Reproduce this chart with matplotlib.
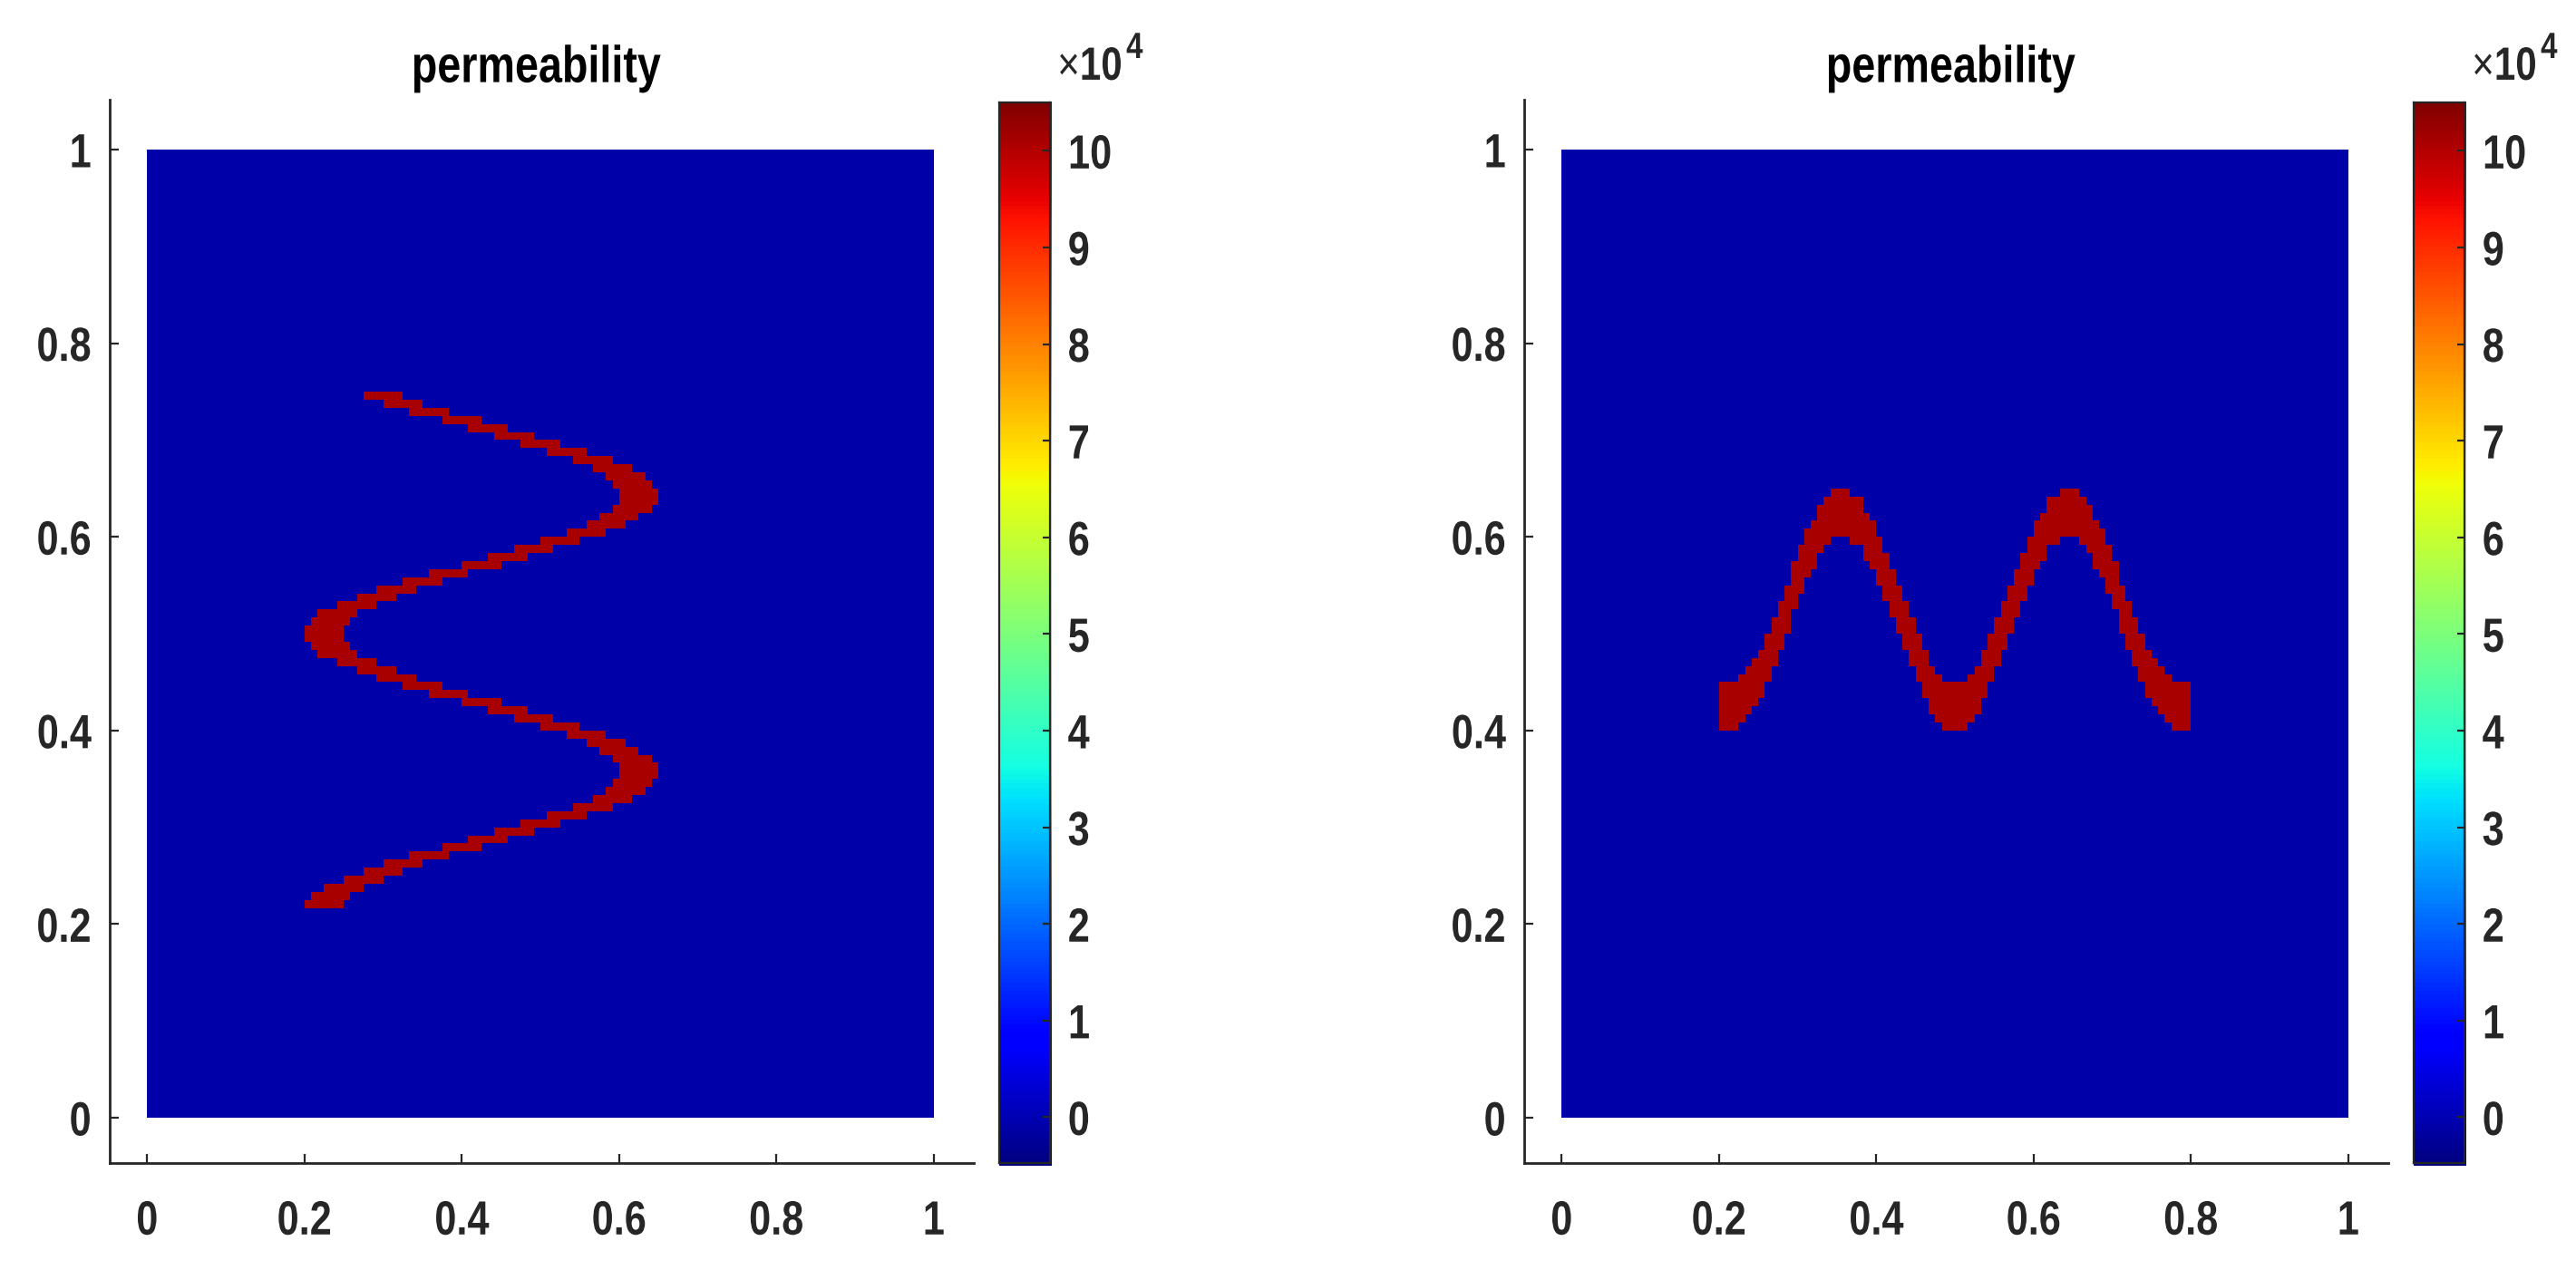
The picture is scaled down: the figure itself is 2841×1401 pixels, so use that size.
import matplotlib
matplotlib.use('Agg')
import matplotlib.pyplot as plt
import matplotlib.patheffects as pe
from matplotlib.transforms import Affine2D
import numpy as np

# Configs
WIDTH = 2841
HEIGHT = 1401
DPI = 100
DARK = '#262626'
N_CELLS = 120

PERM_LOW = -600
PERM_HIGH = 101000
CLIM = (-4690, 105000)

TICKS = [0, 0.2, 0.4, 0.6, 0.8, 1]
TICK_LABELS = ['0', '0.2', '0.4', '0.6', '0.8', '1']
CBAR_TICKS = [0, 1, 2, 3, 4, 5, 6, 7, 8, 9, 10]

# Left panel: red cells per mesh row (row counted from y=0), start and end column
LEFT_ROWS = list(range(26, 90))
LEFT_START = [24, 25, 27, 30, 33, 36, 40, 45, 49, 53, 57, 61, 65, 68, 70, 71,
              72, 72, 71, 69, 67, 64, 60, 56, 52, 48, 43, 39, 35, 32, 29, 26,
              25, 24, 24, 25, 26, 29, 32, 35, 39, 43, 48, 52, 56, 60, 64, 67,
              69, 71, 72, 72, 71, 70, 68, 65, 61, 57, 53, 49, 45, 40, 36, 33]
LEFT_END = [30, 31, 33, 36, 39, 42, 46, 51, 55, 59, 63, 67, 71, 74, 76, 77,
            78, 78, 77, 75, 73, 70, 66, 62, 58, 54, 49, 45, 41, 38, 35, 32,
            31, 30, 30, 31, 32, 35, 38, 41, 45, 49, 54, 58, 62, 66, 70, 73,
            75, 77, 78, 78, 77, 76, 74, 71, 67, 63, 59, 55, 51, 46, 42, 39]

# Right panel: red cells per mesh row, as (start, end) column pairs
RIGHT_ROWS = list(range(48, 78))
RIGHT_SPANS = [
    [(24, 27), (58, 62), (93, 96)],
    [(24, 28), (57, 63), (92, 96)],
    [(24, 29), (56, 64), (91, 96)],
    [(24, 30), (56, 64), (90, 96)],
    [(24, 31), (55, 65), (89, 96)],
    [(24, 31), (55, 65), (89, 96)],
    [(27, 32), (54, 58), (62, 66), (88, 93)],
    [(28, 32), (54, 57), (63, 66), (88, 92)],
    [(29, 33), (53, 56), (64, 67), (87, 91)],
    [(30, 33), (53, 56), (64, 67), (87, 90)],
    [(31, 34), (52, 55), (65, 68), (86, 89)],
    [(31, 34), (52, 55), (65, 68), (86, 89)],
    [(32, 35), (51, 54), (66, 69), (85, 88)],
    [(32, 35), (51, 54), (66, 69), (85, 88)],
    [(33, 35), (50, 53), (67, 70), (85, 87)],
    [(33, 36), (50, 53), (67, 70), (84, 87)],
    [(34, 36), (49, 52), (68, 71), (84, 86)],
    [(34, 37), (49, 52), (68, 71), (83, 86)],
    [(35, 37), (48, 51), (69, 72), (83, 85)],
    [(35, 38), (48, 51), (69, 72), (82, 85)],
    [(35, 39), (47, 50), (70, 73), (81, 85)],
    [(36, 39), (46, 50), (70, 74), (81, 84)],
    [(36, 40), (46, 49), (71, 74), (80, 84)],
    [(37, 41), (44, 49), (71, 76), (79, 83)],
    [(37, 48), (72, 83)],
    [(38, 48), (72, 82)],
    [(39, 47), (73, 81)],
    [(39, 46), (74, 81)],
    [(40, 46), (74, 80)],
    [(41, 44), (76, 79)],
]

LEFT_SPANS = [[(s, e)] for s, e in zip(LEFT_START, LEFT_END)]

plt.rcParams['font.family'] = ['Liberation Sans', 'DejaVu Sans']
plt.rcParams['mathtext.fontset'] = 'custom'
plt.rcParams['mathtext.rm'] = 'Liberation Sans'
plt.rcParams['mathtext.bf'] = 'Liberation Sans:bold'


# The reference text is condensed and no narrow face is installed, so squeeze
# the glyph outlines sideways when they are drawn
class Squeeze(pe.AbstractPathEffect):
    def __init__(self, factor, anchor):
        super().__init__()
        self.factor = factor
        self.anchor = anchor

    def draw_path(self, renderer, gc, tpath, affine, rgbFace=None):
        box = tpath.get_extents(affine)
        x = {'left': box.x0, 'right': box.x1, 'center': (box.x0 + box.x1) / 2}[self.anchor]
        squeezed = affine + Affine2D().translate(-x, 0).scale(self.factor, 1).translate(x, 0)
        renderer.draw_path(gc, tpath, squeezed, rgbFace)


def add_axes_px(fig, left, right, top, bottom):
    return fig.add_axes([left / WIDTH, 1 - bottom / HEIGHT,
                         (right - left) / WIDTH, (bottom - top) / HEIGHT])


def build_grid(rows, spans):
    grid = np.full((N_CELLS, N_CELLS), PERM_LOW, dtype=float)
    for row, row_spans in zip(rows, spans):
        for start, end in row_spans:
            grid[row, start:end] = PERM_HIGH
    return grid


def style_labels(labels, anchor):
    for label in labels:
        label.set_fontweight('bold')
        label.set_path_effects([Squeeze(0.82, anchor)])


def draw_panel(fig, offset, rows, spans):
    # Pixel positions of the panel, offset is the shift of the whole panel
    ax = add_axes_px(fig, 120.5 + offset, 1073.5 + offset, 110, 1282.5)
    x0, x1 = 162.3, 1029.7
    y0, y1 = 1233.0, 165.0
    ax.set_xlim((120.5 - x0) / (x1 - x0), (1073.5 - x0) / (x1 - x0))
    ax.set_ylim((1282.5 - y0) / (y1 - y0), (110 - y0) / (y1 - y0))

    edges = np.linspace(0, 1, N_CELLS + 1)
    mesh = ax.pcolormesh(edges, edges, build_grid(rows, spans), cmap='jet',
                         vmin=CLIM[0], vmax=CLIM[1], rasterized=True)

    for side in ['top', 'right']:
        ax.spines[side].set_visible(False)
    for side in ['left', 'bottom']:
        ax.spines[side].set_linewidth(2.0)
        ax.spines[side].set_color(DARK)

    ax.set_xticks(TICKS, TICK_LABELS)
    ax.set_yticks(TICKS, TICK_LABELS)
    ax.tick_params(direction='in', length=7.2, width=1.6, color=DARK,
                   labelcolor=DARK, labelsize=38)
    ax.tick_params(axis='x', pad=29)
    ax.tick_params(axis='y', pad=14)
    style_labels(ax.get_xticklabels(), 'center')
    style_labels(ax.get_yticklabels(), 'right')

    title = ax.set_title('permeability', fontsize=41, fontweight='bold', color='black',
                         pad=14, x=0.494)
    title.set_path_effects([Squeeze(0.82, 'center')])

    # Colour bar, the image sits 2 px past its frame on the right and bottom
    bar_ax = add_axes_px(fig, 1102 + offset, 1160 + offset, 112, 1286)
    cbar = fig.colorbar(mesh, cax=bar_ax)
    cbar.outline.set_visible(False)
    cbar.set_ticks([])

    frame = add_axes_px(fig, 1102 + offset, 1158 + offset, 113, 1282.5)
    frame.patch.set_visible(False)
    frame.set_xticks([])
    frame.set_ylim(CLIM[0] / 1e4, CLIM[1] / 1e4)
    frame.yaxis.tick_right()
    frame.set_yticks(CBAR_TICKS, [str(t) for t in CBAR_TICKS])
    frame.tick_params(direction='in', length=6, width=1.6, color=DARK,
                      labelcolor=DARK, labelsize=38, pad=14)
    style_labels(frame.get_yticklabels(), 'left')
    for spine in frame.spines.values():
        spine.set_linewidth(1.6)
        spine.set_color(DARK)

    # Multiplier, the exponent sits higher than mathtext would put it
    base = fig.text((1238 + offset) / WIDTH, 1 - 88 / HEIGHT, r'$\times\mathbf{10}$',
                    fontsize=37, color=DARK, ha='right', va='baseline')
    base.set_path_effects([Squeeze(0.82, 'right')])
    power = fig.text((1242 + offset) / WIDTH, 1 - 64 / HEIGHT, '4', fontsize=29,
                     fontweight='bold', color=DARK, ha='left', va='baseline')
    power.set_path_effects([Squeeze(0.82, 'left')])


fig = plt.figure(figsize=(WIDTH / DPI, HEIGHT / DPI), dpi=DPI)
draw_panel(fig, 0, LEFT_ROWS, LEFT_SPANS)
draw_panel(fig, 1560, RIGHT_ROWS, RIGHT_SPANS)
fig.savefig('out.png', dpi=DPI)
